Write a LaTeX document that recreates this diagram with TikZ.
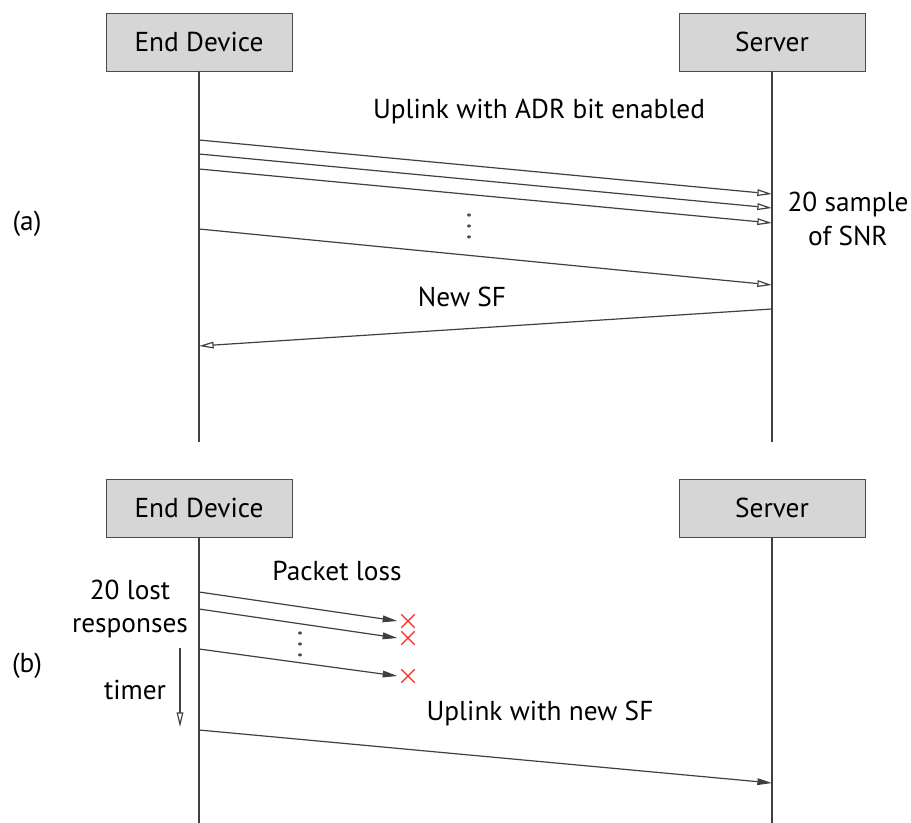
\documentclass[tikz,border=0pt]{standalone}
\usepackage{fontspec}
\setmainfont{PT Sans}
\usetikzlibrary{arrows.meta,positioning,shapes.misc}

\begin{document}
\begin{tikzpicture}[x=0.75pt, y=-0.75pt,
    font=\fontsize{20.5}{25}\selectfont,
    entity/.style={rectangle, draw=black!70, fill=black!16, minimum width=139.5pt, minimum height=43.5pt, text centered, inner sep=0pt},
    lifeline/.style={draw=black!75, line width=0.9pt},
    openmsg/.style={draw=black!75, line width=0.9pt, -{Triangle[open, length=11pt, width=5pt]}},
    fullmsg/.style={draw=black!75, line width=0.9pt, -{Triangle[length=11pt, width=5pt]}},
    lost/.style={cross out, draw=red!85, line width=1pt, minimum size=9pt, inner sep=0pt},
    dotsline/.style={draw=black!70, line width=2.4pt, line cap=round, dash pattern=on 0.01pt off 8.2pt}
  ]
    \useasboundingbox (0,0) rectangle (911,823);

    % (a) ADR bit enabled
    \node (ed_a) [entity] at (199,42) {End Device};
    \node (srv_a) [entity] at (772,42) {Server};
    \coordinate (ed_a_end) at (199,442);
    \coordinate (srv_a_end) at (772,442);
    \draw[lifeline] (ed_a) -- (ed_a_end);
    \draw[lifeline] (srv_a) -- (srv_a_end);

    \coordinate (a_s1) at (199,140);
    \coordinate (a_t1) at (772,194);
    \coordinate (a_s2) at (199,154);
    \coordinate (a_t2) at (772,208);
    \coordinate (a_s3) at (199,169);
    \coordinate (a_t3) at (772,223);
    \coordinate (a_s4) at (199,229);
    \coordinate (a_t4) at (772,285);
    \coordinate (sf_s) at (772,309);
    \coordinate (sf_t) at (199,346);

    \draw[openmsg] (a_s1) -- (a_t1);
    \draw[openmsg] (a_s2) -- (a_t2);
    \draw[openmsg] (a_s3) -- (a_t3);
    \draw[openmsg] (a_s4) -- (a_t4);
    \draw[openmsg] (sf_s) -- (sf_t);

    \coordinate (dots_a_top) at (469,215);
    \coordinate (dots_a_bot) at (469,237);
    \draw[dotsline] (dots_a_top) -- (dots_a_bot);

    \node (lbl_a) at (27,224) {(a)};
    \node (lbl_adr) at (539,112) {Uplink with ADR bit enabled};
    \node (lbl_snr) [align=center] at (848,219) {20 sample\\of SNR};
    \node (lbl_sf) at (462,297) {New SF};

    % (b) Packet loss
    \node (ed_b) [entity] at (199,508) {End Device};
    \node (srv_b) [entity] at (772,508) {Server};
    \coordinate (ed_b_end) at (199,823);
    \coordinate (srv_b_end) at (772,823);
    \draw[lifeline] (ed_b) -- (ed_b_end);
    \draw[lifeline] (srv_b) -- (srv_b_end);

    \node (x1) [lost] at (408,621) {};
    \node (x2) [lost] at (408,638) {};
    \node (x3) [lost] at (408,676) {};
    \coordinate (b_s1) at (199,592);
    \coordinate (b_s2) at (199,609);
    \coordinate (b_s3) at (199,649);
    \coordinate (b_s4) at (199,730);
    \coordinate (b_t4) at (772,783);

    \draw[fullmsg] (b_s1) -- ([xshift=-8pt]x1.center);
    \draw[fullmsg] (b_s2) -- ([xshift=-8pt]x2.center);
    \draw[fullmsg] (b_s3) -- ([xshift=-8pt]x3.center);
    \draw[fullmsg] (b_s4) -- (b_t4);

    \coordinate (dots_b_top) at (300,633);
    \coordinate (dots_b_bot) at (300,655);
    \draw[dotsline] (dots_b_top) -- (dots_b_bot);

    % Timer
    \coordinate (timer_s) at (180,648);
    \coordinate (timer_t) at (180,727);
    \draw[openmsg] (timer_s) -- (timer_t);

    \node (lbl_b) at (27,666) {(b)};
    \node (lbl_loss) at (337,571) {Packet loss};
    \node (lbl_lost) [align=center] at (130,609) {20 lost\\responses};
    \node (lbl_timer) at (135,690) {timer};
    \node (lbl_new) at (540,714) {Uplink with new SF};

\end{tikzpicture}
\end{document}
